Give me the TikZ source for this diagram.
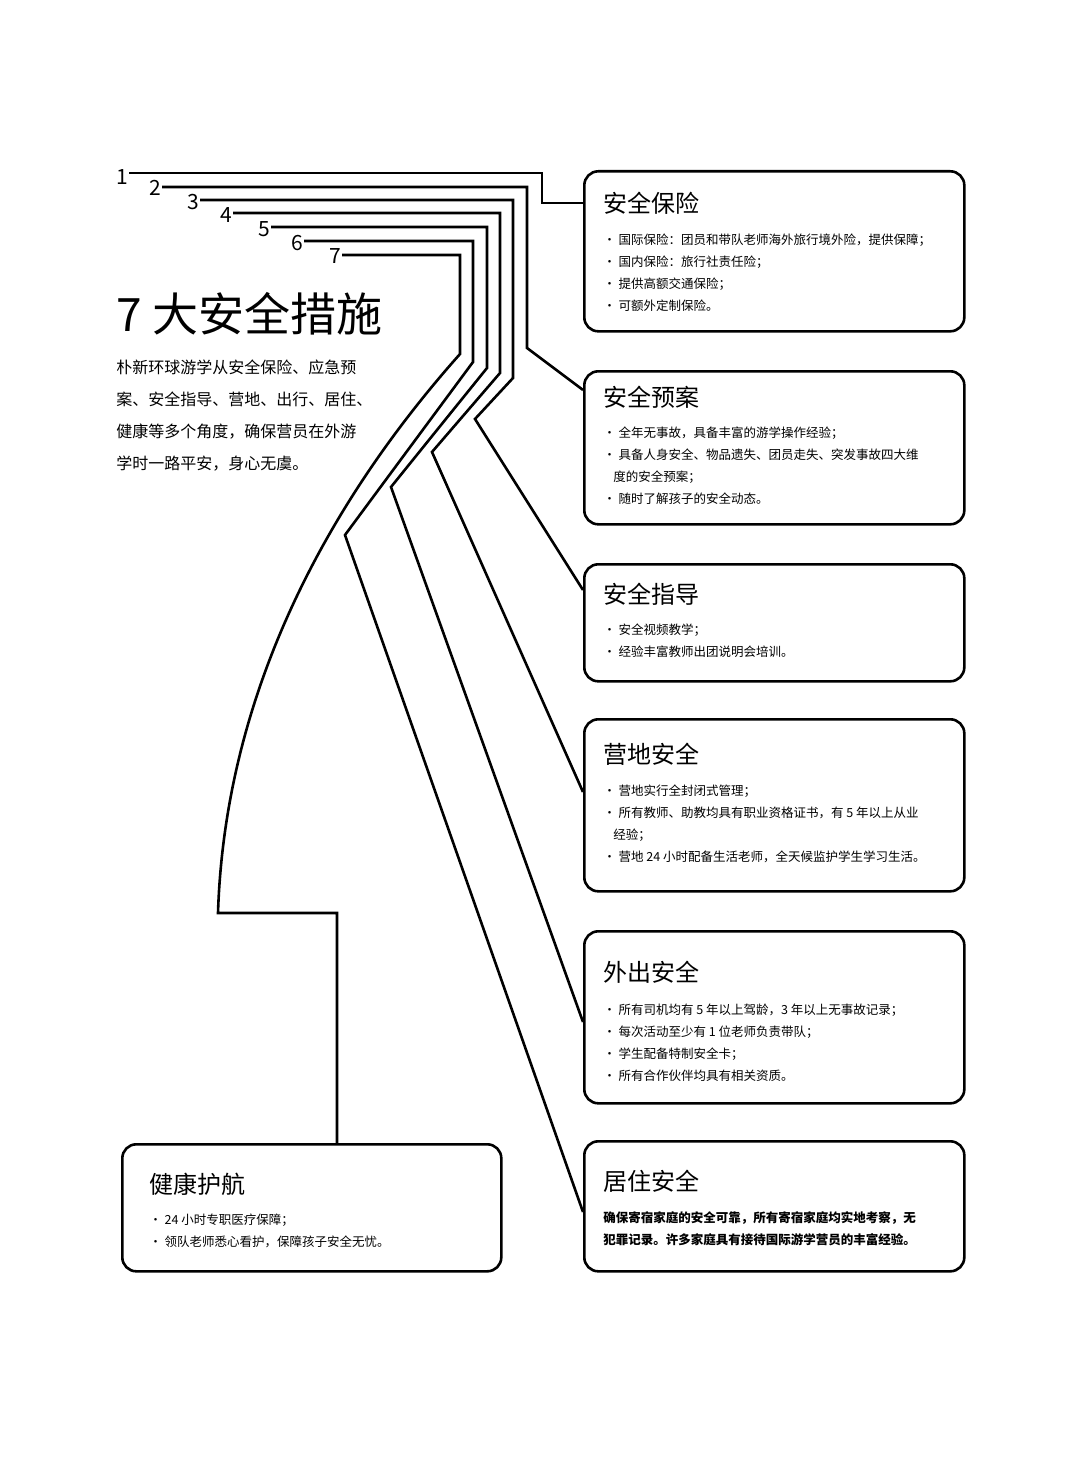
\documentclass[tikz,border=0pt]{standalone}
\usepackage{fontspec}
\setmainfont{Noto Sans CJK SC}
\begin{document}
\begin{tikzpicture}[x=1pt,y=-1pt,line width=2.6pt,line join=miter,
  box/.style={draw,rounded corners=14pt,anchor=north west,inner sep=0pt},
  ttl/.style={anchor=west,inner sep=0pt,font=\fontsize{24}{28}\selectfont},
  itm/.style={anchor=west,inner sep=0pt,font=\fontsize{12.5}{15}\selectfont},
  num/.style={inner sep=0pt,font=\fontsize{21}{24}\selectfont},
  ln/.style={line width=2.6pt}]
\useasboundingbox (0,0) rectangle (1080,1466);
\fill[white] (0,0) rectangle (1080,1466);
% boxes
\node[box,minimum width=380pt,minimum height=160pt] (b1) at (583,170) {};
\node[box,minimum width=380pt,minimum height=153pt] (b2) at (583,370) {};
\node[box,minimum width=380pt,minimum height=117pt] (b3) at (583,563) {};
\node[box,minimum width=380pt,minimum height=172pt] (b4) at (583,718) {};
\node[box,minimum width=380pt,minimum height=172pt] (b5) at (583,930) {};
\node[box,minimum width=380pt,minimum height=130pt] (b6) at (583,1140) {};
\node[box,minimum width=379pt,minimum height=127pt] (b7) at (121,1143) {};
% numbers
\node[num] (n1) at (122,177) {1};
\node[num] (n2) at (155,188) {2};
\node[num] (n3) at (193,202) {3};
\node[num] (n4) at (226,215) {4};
\node[num] (n5) at (264,229) {5};
\node[num] (n6) at (297,243) {6};
\node[num] (n7) at (335,256) {7};
% connectors
\draw[ln] (n1.east |- 0,173) -- (542,173) -- (542,203) -- ([yshift=-33pt]b1.north west);
\draw[ln] (n2.east |- 0,187) -- (527,187) -- (527,348) -- ([yshift=-20pt]b2.north west);
\draw[ln] (n3.east |- 0,200) -- (513,200) -- (513,378) -- (475,419) -- ([yshift=-27pt]b3.north west);
\draw[ln] (n4.east |- 0,213) -- (500,213) -- (500,373) -- (432,452) -- ([yshift=-74pt]b4.north west);
\draw[ln] (n5.east |- 0,227) -- (487,227) -- (487,368) -- (391,487) -- ([yshift=-92pt]b5.north west);
\draw[ln] (n6.east |- 0,241) -- (473,241) -- (473,362) -- (345,535) -- ([yshift=-72pt]b6.north west);
\draw[ln] (n7.east |- 0,255) -- (460,255) -- (460,354) .. controls (330,500) and (225,690) .. (218,913) -- (337,913) -- (337,1143);
% heading
\node[anchor=west,inner sep=0pt,font=\fontsize{46}{50}\selectfont] (h) at (115,314) {7 大安全措施};
\node[anchor=north west,inner sep=0pt,align=left,font=\fontsize{16}{32}\selectfont] (p) at (115,359) {朴新环球游学从安全保险、应急预\\案、安全指导、营地、出行、居住、\\健康等多个角度，确保营员在外游\\学时一路平安，身心无虞。};
% box texts
\node[ttl] at (602,203) {安全保险};
\node[itm] at (602,240) {• 国际保险：团员和带队老师海外旅行境外险，提供保障；};
\node[itm] at (602,262) {• 国内保险：旅行社责任险；};
\node[itm] at (602,284) {• 提供高额交通保险；};
\node[itm] at (602,306) {• 可额外定制保险。};
\node[ttl] at (602,397) {安全预案};
\node[itm] at (602,433) {• 全年无事故，具备丰富的游学操作经验；};
\node[itm] at (602,455) {• 具备人身安全、物品遗失、团员走失、突发事故四大维};
\node[itm] at (612,477) {度的安全预案；};
\node[itm] at (602,499) {• 随时了解孩子的安全动态。};
\node[ttl] at (602,594) {安全指导};
\node[itm] at (602,630) {• 安全视频教学；};
\node[itm] at (602,652) {• 经验丰富教师出团说明会培训。};
\node[ttl] at (602,754) {营地安全};
\node[itm] at (602,791) {• 营地实行全封闭式管理；};
\node[itm] at (602,813) {• 所有教师、助教均具有职业资格证书，有 5 年以上从业};
\node[itm] at (612,835) {经验；};
\node[itm] at (602,857) {• 营地 24 小时配备生活老师，全天候监护学生学习生活。};
\node[ttl] at (602,972) {外出安全};
\node[itm] at (602,1010) {• 所有司机均有 5 年以上驾龄，3 年以上无事故记录；};
\node[itm] at (602,1032) {• 每次活动至少有 1 位老师负责带队；};
\node[itm] at (602,1054) {• 学生配备特制安全卡；};
\node[itm] at (602,1076) {• 所有合作伙伴均具有相关资质。};
\node[ttl] at (602,1181) {居住安全};
\node[itm,font=\fontsize{12.5}{15}\selectfont\bfseries] at (602,1218) {确保寄宿家庭的安全可靠，所有寄宿家庭均实地考察，无};
\node[itm,font=\fontsize{12.5}{15}\selectfont\bfseries] at (602,1240) {犯罪记录。许多家庭具有接待国际游学营员的丰富经验。};
\node[ttl] at (148,1184) {健康护航};
\node[itm] at (148,1220) {• 24 小时专职医疗保障；};
\node[itm] at (148,1242) {• 领队老师悉心看护，保障孩子安全无忧。};
\end{tikzpicture}
\end{document}
